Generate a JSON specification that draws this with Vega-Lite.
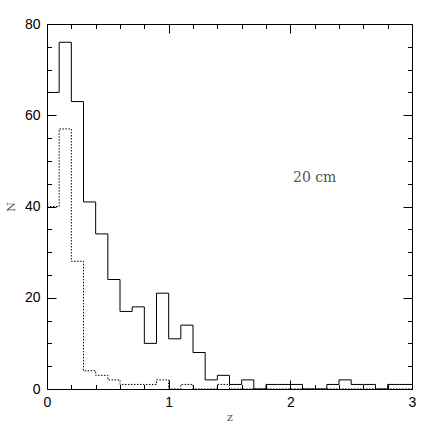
{
  "$schema": "https://vega.github.io/schema/vega-lite/v6.json",
  "width": 365,
  "height": 365,
  "autosize": {"type": "none"},
  "padding": {"left": 47, "top": 24, "right": 24, "bottom": 47},
  "background": "white",
  "config": {
    "view": {"stroke": "black", "strokeWidth": 1},
    "axis": {
      "domain": false,
      "grid": false,
      "tickColor": "black",
      "tickWidth": 1,
      "labelColor": "black",
      "labelFont": "Liberation Sans",
      "labelFontSize": 14,
      "titleFont": "DejaVu Serif",
      "titleFontWeight": "normal",
      "titleFontSize": 11,
      "titleColor": "#555555"
    }
  },
  "datasets": {
    "hist": [
      {"z": 0.0, "solid": 65, "dotted": 40},
      {"z": 0.1, "solid": 76, "dotted": 57},
      {"z": 0.2, "solid": 63, "dotted": 28},
      {"z": 0.3, "solid": 41, "dotted": 4},
      {"z": 0.4, "solid": 34, "dotted": 3},
      {"z": 0.5, "solid": 24, "dotted": 2},
      {"z": 0.6, "solid": 17, "dotted": 1},
      {"z": 0.7, "solid": 18, "dotted": 1},
      {"z": 0.8, "solid": 10, "dotted": 1},
      {"z": 0.9, "solid": 21, "dotted": 2},
      {"z": 1.0, "solid": 11, "dotted": 0},
      {"z": 1.1, "solid": 14, "dotted": 1},
      {"z": 1.2, "solid": 8, "dotted": 0},
      {"z": 1.3, "solid": 2, "dotted": 0},
      {"z": 1.4, "solid": 3, "dotted": 1},
      {"z": 1.5, "solid": 1, "dotted": 0},
      {"z": 1.6, "solid": 2, "dotted": 0},
      {"z": 1.7, "solid": 0, "dotted": 0},
      {"z": 1.8, "solid": 1, "dotted": 0},
      {"z": 1.9, "solid": 1, "dotted": 0},
      {"z": 2.0, "solid": 1, "dotted": 0},
      {"z": 2.1, "solid": 0, "dotted": 0},
      {"z": 2.2, "solid": 0, "dotted": 0},
      {"z": 2.3, "solid": 1, "dotted": 0},
      {"z": 2.4, "solid": 2, "dotted": 0},
      {"z": 2.5, "solid": 1, "dotted": 0},
      {"z": 2.6, "solid": 1, "dotted": 0},
      {"z": 2.7, "solid": 0, "dotted": 0},
      {"z": 2.8, "solid": 1, "dotted": 0},
      {"z": 2.9, "solid": 1, "dotted": 0},
      {"z": 3.0, "solid": 1, "dotted": 0}
    ],
    "note": [
      {"label": "20 cm"}
    ]
  },
  "data": {"name": "hist"},
  "resolve": {"axis": {"x": "independent", "y": "independent"}},
  "layer": [
    {
      "mark": {"type": "line", "interpolate": "step-after", "color": "black", "strokeWidth": 1},
      "encoding": {
        "x": {"field": "z", "type": "quantitative", "scale": {"domain": [0, 3], "nice": false, "zero": false},
              "axis": {"orient": "bottom", "values": [0, 1, 2, 3], "tickSize": -9, "labelPadding": 15, "title": "z", "titlePadding": 2, "labelFlush": false}},
        "y": {"field": "solid", "type": "quantitative", "scale": {"domain": [0, 80], "nice": false},
              "axis": {"orient": "left", "values": [0, 20, 40, 60, 80], "tickSize": -9, "labelPadding": 16, "title": "N", "titlePadding": 8, "labelFlush": false}}
      }
    },
    {
      "mark": {"type": "line", "interpolate": "step-after", "color": "black", "strokeWidth": 1, "strokeDash": [1.5, 1.5]},
      "encoding": {
        "x": {"field": "z", "type": "quantitative", "scale": {"domain": [0, 3], "nice": false, "zero": false},
              "axis": {"orient": "top", "values": [0, 1, 2, 3], "tickSize": -9, "labels": false, "title": null}},
        "y": {"field": "dotted", "type": "quantitative", "scale": {"domain": [0, 80], "nice": false},
              "axis": {"orient": "right", "values": [0, 20, 40, 60, 80], "tickSize": -9, "labels": false, "title": null}}
      }
    },
    {
      "mark": {"type": "line", "opacity": 0},
      "encoding": {
        "x": {"field": "z", "type": "quantitative", "scale": {"domain": [0, 3], "nice": false, "zero": false},
              "axis": {"orient": "bottom", "values": [0.2, 0.4, 0.6, 0.8, 1.2, 1.4, 1.6, 1.8, 2.2, 2.4, 2.6, 2.8], "tickSize": -4.5, "labels": false, "title": null}},
        "y": {"field": "solid", "type": "quantitative", "scale": {"domain": [0, 80], "nice": false},
              "axis": {"orient": "left", "values": [5, 10, 15, 25, 30, 35, 45, 50, 55, 65, 70, 75], "tickSize": -4.5, "labels": false, "title": null}}
      }
    },
    {
      "mark": {"type": "line", "opacity": 0},
      "encoding": {
        "x": {"field": "z", "type": "quantitative", "scale": {"domain": [0, 3], "nice": false, "zero": false},
              "axis": {"orient": "top", "values": [0.2, 0.4, 0.6, 0.8, 1.2, 1.4, 1.6, 1.8, 2.2, 2.4, 2.6, 2.8], "tickSize": -4.5, "labels": false, "title": null}},
        "y": {"field": "solid", "type": "quantitative", "scale": {"domain": [0, 80], "nice": false},
              "axis": {"orient": "right", "values": [5, 10, 15, 25, 30, 35, 45, 50, 55, 65, 70, 75], "tickSize": -4.5, "labels": false, "title": null}}
      }
    },
    {
      "data": {"name": "note"},
      "mark": {"type": "text", "font": "DejaVu Serif", "fontSize": 14, "color": "#555555", "align": "center", "baseline": "middle"},
      "encoding": {
        "text": {"field": "label", "type": "nominal"},
        "x": {"datum": 2.2, "type": "quantitative", "axis": null},
        "y": {"datum": 46.3, "type": "quantitative", "axis": null}
      }
    }
  ]
}
